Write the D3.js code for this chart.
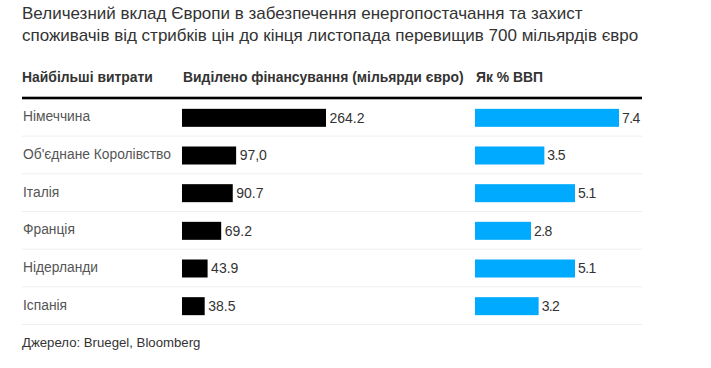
<!DOCTYPE html>
<html>
<head>
<meta charset="utf-8">
<script src="https://cdn.jsdelivr.net/npm/d3@7"></script>
<style>
  html, body { margin: 0; padding: 0; background: #fff; }
  svg { display: block; font-family: "Liberation Sans", Arial, sans-serif; }
</style>
</head>
<body>
<svg id="chart" width="711" height="368"></svg>
<script>
const titleLines = [
  "Величезний вклад Європи в забезпечення енергопостачання та захист",
  "споживачів від стрибків цін до кінця листопада перевищив 700 мільярдів євро"
];
const headers = ["Найбільші витрати", "Виділено фінансування (мільярди євро)", "Як % ВВП"];
const countries = ["Німеччина", "Об'єднане Королівство", "Італія", "Франція", "Нідерланди", "Іспанія"];
const funding = [264.2, 97.0, 90.7, 69.2, 43.9, 38.5];
const fundingLabels = ["264.2", "97,0", "90.7", "69.2", "43.9", "38.5"];
const gdpShare = [7.4, 3.5, 5.1, 2.8, 5.1, 3.2];
const gdpLabels = ["7.4", "3.5", "5.1", "2.8", "5.1", "3.2"];
const sourceText = "Джерело: Bruegel, Bloomberg";

const svg = d3.select("#chart");
const left = 22, right = 642;
const col2 = 182, col3 = 475;

// title
svg.append("g").selectAll("text").data(titleLines).join("text")
  .attr("x", left).attr("y", (d, i) => 18.5 + i * 22.5)
  .attr("font-size", 17).attr("fill", "#333").text(d => d);

// headers
const hx = [left, col2 + 1, col3 + 1];
svg.append("g").selectAll("text").data(headers).join("text")
  .attr("x", (d, i) => hx[i]).attr("y", 81.5)
  .attr("font-size", 13.9).attr("font-weight", "bold").attr("fill", "#333").text(d => d);

// top rule
svg.append("rect").attr("x", left).attr("y", 96.7).attr("width", right - left).attr("height", 2.6).attr("fill", "#000");

const y = d3.scaleBand().domain(countries).range([99, 325]).padding(0);
const bh = 18;
const wF = d3.scaleLinear().domain([0, d3.max(funding)]).range([2, 144]);
const wG = d3.scaleLinear().domain([0, d3.max(gdpShare)]).range([2.4, 144]);

const rows = svg.append("g").selectAll("g").data(countries).join("g")
  .attr("transform", d => `translate(0,${y(d)})`);

rows.append("line").attr("x1", left).attr("x2", right)
  .attr("y1", y.bandwidth() - 0.5).attr("y2", y.bandwidth() - 0.5)
  .attr("stroke", "#eeeeee").attr("stroke-width", 1);

const mid = y.bandwidth() / 2;
rows.append("text").attr("x", left + 1).attr("y", mid + 3.5)
  .attr("font-size", 13.8).attr("fill", "#555").text(d => d);

rows.append("rect").attr("x", col2).attr("y", mid - bh / 2)
  .attr("width", (d, i) => wF(funding[i])).attr("height", bh).attr("fill", "#000");
rows.append("text").attr("x", (d, i) => col2 + wF(funding[i]) + 3.5).attr("y", mid + 5)
  .attr("font-size", 14).attr("fill", "#333").text((d, i) => fundingLabels[i]);

rows.append("rect").attr("x", col3).attr("y", mid - bh / 2)
  .attr("width", (d, i) => wG(gdpShare[i])).attr("height", bh).attr("fill", "#00aaff");
rows.append("text").attr("x", (d, i) => col3 + wG(gdpShare[i]) + 3).attr("y", mid + 5)
  .attr("font-size", 14).attr("fill", "#333").attr("letter-spacing", -0.6).text((d, i) => gdpLabels[i]);

// source
svg.append("text").attr("x", left).attr("y", 346.5)
  .attr("font-size", 13.2).attr("fill", "#333").text(sourceText);
</script>
</body>
</html>
